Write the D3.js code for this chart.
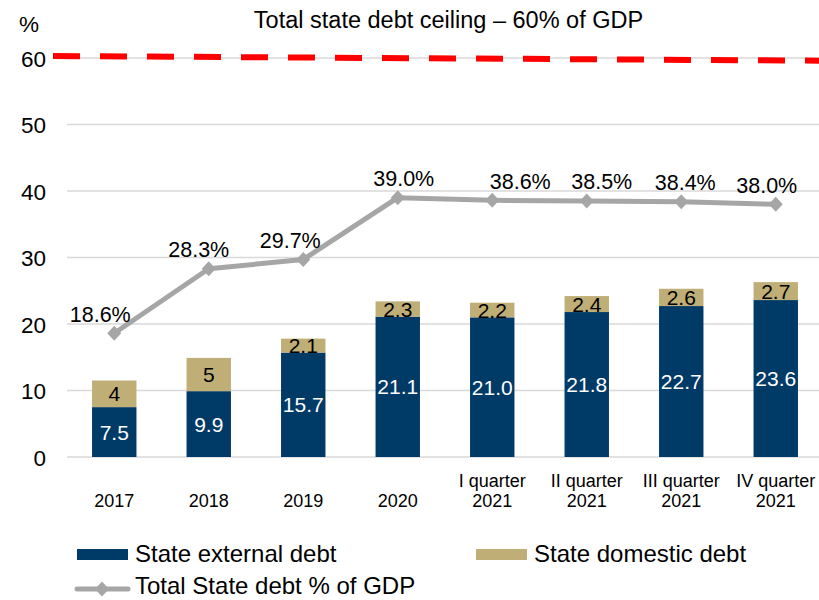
<!DOCTYPE html>
<html>
<head>
<meta charset="utf-8">
<script src="https://cdn.jsdelivr.net/npm/d3@7"></script>
<style>
  body { margin: 0; background: #fff; }
  svg text { font-family: "Liberation Sans", Arial, sans-serif; fill: #000; }
</style>
</head>
<body>
<svg id="chart" width="819" height="600"></svg>
<script>
// Periods on the x axis (two-line labels split on "\n")
const categories = ["2017", "2018", "2019", "2020", "I quarter\n2021", "II quarter\n2021", "III quarter\n2021", "IV quarter\n2021"];
// State external debt, % of GDP
const externalDebt = [7.5, 9.9, 15.7, 21.1, 21.0, 21.8, 22.7, 23.6];
// State domestic debt, % of GDP
const domesticDebt = [4, 5, 2.1, 2.3, 2.2, 2.4, 2.6, 2.7];
// Total state debt, % of GDP
const totalDebt = [18.6, 28.3, 29.7, 39.0, 38.6, 38.5, 38.4, 38.0];
const totalLabels = ["18.6%", "28.3%", "29.7%", "39.0%", "38.6%", "38.5%", "38.4%", "38.0%"];
// Debt ceiling line, left and right ends
const ceilingEnds = [60.3, 59.6];
const yTicks = [0, 10, 20, 30, 40, 50, 60];

// horizontal nudges for the total-debt labels
const labelDx = [-14, -10, -13, 6, 28, 15, 4, -9];

const colors = { external: "#003A66", domestic: "#BFAE76", total: "#A6A6A6", ceiling: "#FF0000", grid: "#D9D9D9" };

const svg = d3.select("#chart");
const plot = { left: 67, right: 823, top: 58, bottom: 457 };

const x = d3.scaleBand().domain(categories).range([plot.left, plot.right]).paddingInner(0.53).paddingOuter(0.265);
const y = d3.scaleLinear().domain([0, 60]).range([plot.bottom, plot.top]);

// gridlines
svg.append("g").selectAll("line").data(yTicks).join("line")
  .attr("x1", plot.left).attr("x2", 819)
  .attr("y1", d => y(d)).attr("y2", d => y(d))
  .attr("stroke", colors.grid).attr("stroke-width", 1.5);

// y axis labels
const yAxis = d3.axisLeft(y).tickValues(yTicks).tickSize(0).tickPadding(0);
const gy = svg.append("g").attr("transform", `translate(46,0)`).call(yAxis);
gy.select(".domain").remove();
gy.selectAll("text").attr("font-size", 22.5).attr("font-family", "Liberation Sans, Arial, sans-serif").attr("dy", "0.36em");

svg.append("text").attr("x", 19).attr("y", 32).attr("font-size", 22.5).text("%");

// title
svg.append("text").attr("x", 448.5).attr("y", 28).attr("text-anchor", "middle").attr("font-size", 23.5)
  .text("Total state debt ceiling – 60% of GDP");

// stacked bars
const stackData = categories.map((c, i) => ({ cat: c, external: externalDebt[i], domestic: domesticDebt[i] }));
const stack = d3.stack().keys(["external", "domestic"])(stackData);
const barG = svg.append("g");
stack.forEach(layer => {
  barG.append("g").selectAll("rect").data(layer).join("rect")
    .attr("x", d => x(d.data.cat))
    .attr("width", x.bandwidth())
    .attr("y", d => y(d[1]))
    .attr("height", d => y(d[0]) - y(d[1]))
    .attr("fill", colors[layer.key]);
});

// bar value labels
stack.forEach(layer => {
  barG.append("g").selectAll("text").data(layer).join("text")
    .attr("x", d => x(d.data.cat) + x.bandwidth() / 2)
    .attr("y", d => (y(d[0]) + y(d[1])) / 2)
    .attr("dy", "0.36em")
    .attr("text-anchor", "middle")
    .attr("font-size", 21)
    .style("fill", layer.key === "external" ? "#fff" : "#000")
    .text(d => layer.key === "external" ? d.data.external.toFixed(1) : String(d.data.domestic));
});

// x axis labels
const xLab = svg.append("g");
categories.forEach(c => {
  const lines = c.split("\n");
  const cx = x(c) + x.bandwidth() / 2;
  lines.forEach((t, j) => {
    xLab.append("text")
      .attr("x", cx)
      .attr("y", 507 - (lines.length - 1 - j) * 20)
      .attr("text-anchor", "middle").attr("font-size", 18)
      .text(t);
  });
});

// total debt line
const px = (d, i) => x(categories[i]) + x.bandwidth() / 2;
const line = d3.line().x((d, i) => px(d, i)).y(d => y(d));
svg.append("path").datum(totalDebt).attr("d", line)
  .attr("fill", "none").attr("stroke", colors.total).attr("stroke-width", 5).attr("stroke-linejoin", "round");

const diamond = "M0,-7.5L7,0L0,7.5L-7,0Z";
svg.append("g").selectAll("path").data(totalDebt).join("path")
  .attr("transform", (d, i) => `translate(${px(d, i)},${y(d)})`)
  .attr("d", diamond).attr("fill", colors.total);

svg.append("g").selectAll("text").data(totalDebt).join("text")
  .attr("x", (d, i) => px(d, i) + labelDx[i])
  .attr("y", d => y(d) - 11.5)
  .attr("text-anchor", "middle").attr("font-size", 21.5)
  .text((d, i) => totalLabels[i]);

// debt ceiling dashed line
const xc = d3.scaleLinear().domain([0, 1]).range([53, 819]);
svg.append("path").datum(ceilingEnds)
  .attr("d", d3.line().x((d, i) => xc(i)).y(d => y(d)))
  .attr("stroke", colors.ceiling).attr("stroke-width", 6).attr("fill", "none")
  .attr("stroke-dasharray", "27,20");

// legend
const lg = svg.append("g");
const legendText = (tx, ty, label) =>
  lg.append("text").attr("x", tx).attr("y", ty).attr("font-size", 24).text(label);
lg.append("rect").attr("x", 77).attr("y", 549).attr("width", 51).attr("height", 11).attr("fill", colors.external);
legendText(135, 562, "State external debt");
lg.append("rect").attr("x", 476).attr("y", 549).attr("width", 51).attr("height", 11).attr("fill", colors.domestic);
legendText(534, 562, "State domestic debt");
lg.append("line").attr("x1", 77).attr("x2", 128).attr("y1", 589).attr("y2", 589)
  .attr("stroke", colors.total).attr("stroke-width", 5).attr("stroke-linecap", "round");
lg.append("path").attr("transform", "translate(102,589)").attr("d", diamond).attr("fill", colors.total);
legendText(135, 594, "Total State debt % of GDP");
</script>
</body>
</html>
